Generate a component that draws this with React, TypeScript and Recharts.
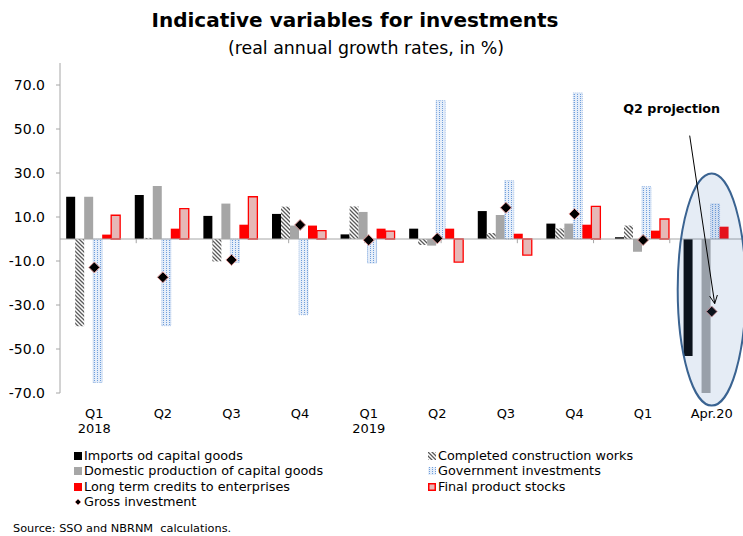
import React from 'react';
import { ComposedChart, Bar, Line, XAxis, YAxis, ReferenceLine, ReferenceDot } from 'recharts';

// Categories and axis labels
const periods = ['Q1-2018', 'Q2-2018', 'Q3-2018', 'Q4-2018', 'Q1-2019', 'Q2-2019', 'Q3-2019', 'Q4-2019', 'Q1-2020', 'Apr-2020'];
const quarterLabels = ['Q1', 'Q2', 'Q3', 'Q4', 'Q1', 'Q2', 'Q3', 'Q4', 'Q1', 'Apr.20'];
const yearLabels = ['2018', '', '', '', '2019', '', '', '', '', ''];
const yTicks = [-70, -50, -30, -10, 10, 30, 50, 70];

// Series (real annual growth rates, %)
const imports = [19.2, 20.0, 10.5, 11.4, 2.1, 4.7, 12.7, 7.0, 0.8, -53.2];
const construction = [-39.7, 0.5, -10.2, 14.7, 14.8, -2.7, 2.7, 4.8, 6.1, null];
const domestic = [19.2, 24.1, 16.1, 6.1, 12.3, -3.0, 10.9, 7.0, -5.8, -70.0];
const government = [-65.2, -39.4, -10.6, -34.4, -10.9, 62.9, 26.5, 66.4, 23.8, 15.9];
const credits = [2.0, 4.7, 6.5, 6.1, 4.7, 4.7, 2.4, 6.5, 3.8, 5.6];
const stocks = [10.8, 13.8, 19.2, 3.8, 3.6, -10.5, -7.3, 14.8, 9.1, null];
const gross = [-12.9, -17.4, -9.5, 6.4, -0.5, 0.3, 14.2, 11.4, -0.5, -33.0];

const data = periods.map((p, i) => ({
  period: p,
  imports: imports[i],
  construction: construction[i],
  domestic: domestic[i],
  government: government[i],
  credits: credits[i],
  stocks: stocks[i],
  gross: gross[i],
}));

const separators = periods.slice(1).map((_, i) => i + 1);

const FONT = '"DejaVu Sans", Verdana, sans-serif';

const Diamond = (props: any) => {
  const { cx, cy, index } = props;
  if (cx == null || cy == null) return <g key={index} />;
  const r = 5.5;
  return (
    <polygon
      key={index}
      points={`${cx},${cy - r} ${cx + r},${cy} ${cx},${cy + r} ${cx - r},${cy}`}
      fill="#000"
      stroke="#e39b9a"
      strokeWidth={1}
    />
  );
};

const QuarterTick = (props: any) => {
  const { x, y, payload } = props;
  const i = periods.indexOf(payload.value);
  return (
    <g>
      <text x={x} y={y + 17} textAnchor="middle" fontSize={13} fontFamily={FONT} fill="#000">
        {quarterLabels[i]}
      </text>
      {yearLabels[i] && (
        <text x={x} y={y + 32} textAnchor="middle" fontSize={13} fontFamily={FONT} fill="#000">
          {yearLabels[i]}
        </text>
      )}
    </g>
  );
};

// Ellipse + arrow + note around the April projection
const Projection = (props: any) => {
  const { cx, cy } = props;
  if (cx == null || cy == null) return <g />;
  const x1 = cx - 22, y1 = cy - 176, x2 = cx + 3, y2 = cy - 8;
  const ang = Math.atan2(y2 - y1, x2 - x1);
  const h = 9;
  const a1 = ang + Math.PI - 0.45, a2 = ang + Math.PI + 0.45;
  return (
    <g>
      <ellipse cx={cx} cy={cy - 22} rx={34} ry={116} fill="#4f81bd" fillOpacity={0.15} stroke="#3a6391" strokeWidth={2} />
      <line x1={x1} y1={y1} x2={x2} y2={y2} stroke="#000" strokeWidth={1} />
      <polyline
        points={`${x2 + h * Math.cos(a1)},${y2 + h * Math.sin(a1)} ${x2},${y2} ${x2 + h * Math.cos(a2)},${y2 + h * Math.sin(a2)}`}
        fill="none"
        stroke="#000"
        strokeWidth={1}
      />
      <text x={cx - 40} y={cy - 203} textAnchor="middle" dominantBaseline="central" fontSize={12.7} fontWeight="bold" fontFamily={FONT} fill="#000">
        Q2 projection
      </text>
    </g>
  );
};

const Swatch = ({ kind }: { kind: string }) => {
  let inner: React.ReactNode = null;
  if (kind === 'imports') inner = <rect x={0} y={0} width={8} height={8} fill="#000" />;
  if (kind === 'domestic') inner = <rect x={0} y={0} width={8} height={8} fill="#a6a6a6" />;
  if (kind === 'credits') inner = <rect x={0} y={0} width={8} height={8} fill="#ff0000" />;
  if (kind === 'construction') inner = <rect x={0} y={0} width={8} height={8} fill="url(#hatch)" />;
  if (kind === 'government') inner = <rect x={0} y={0} width={8} height={8} fill="url(#dots)" />;
  if (kind === 'stocks') inner = <rect x={0.75} y={0.75} width={6.5} height={6.5} fill="#e6b8b7" stroke="#ff0000" strokeWidth={1.5} />;
  if (kind === 'gross') inner = <polygon points="4,1 7,4 4,7 1,4" fill="#000" stroke="#e39b9a" strokeWidth={0.8} />;
  return (
    <svg width={8} height={8} style={{ display: 'block', marginRight: 2 }}>
      {inner}
    </svg>
  );
};

const legendRows = [
  { kind: 'imports', label: 'Imports od capital goods', x: 74, y: 456 },
  { kind: 'domestic', label: 'Domestic production of capital goods', x: 74, y: 471 },
  { kind: 'credits', label: 'Long term credits to enterprises', x: 74, y: 487 },
  { kind: 'gross', label: 'Gross investment', x: 74, y: 502 },
  { kind: 'construction', label: 'Completed construction works', x: 428, y: 456 },
  { kind: 'government', label: 'Government investments', x: 428, y: 471 },
  { kind: 'stocks', label: 'Final product stocks', x: 428, y: 487 },
];

const App = () => {
  return (
    <div style={{ position: 'absolute', left: 0, top: 0, width: 743, height: 536, overflow: 'hidden', background: '#fff', fontFamily: FONT }}>
      <svg width={0} height={0} style={{ position: 'absolute' }}>
        <defs>
          <pattern id="hatch" patternUnits="userSpaceOnUse" width={4} height={4}>
            <rect width={4} height={4} fill="#fff" />
            <path d="M-1,-1 L5,5 M-1,3 L1,5 M3,-1 L5,1" stroke="#5a5a5a" strokeWidth={1.3} />
          </pattern>
          <pattern id="dots" patternUnits="userSpaceOnUse" width={3} height={2}>
            <rect width={3} height={2} fill="#e6eef9" />
            <rect x={1} y={0} width={1} height={1} fill="#6f9edb" />
          </pattern>
        </defs>
      </svg>

      <div style={{ position: 'absolute', left: 0, top: 8, width: 710, textAlign: 'center', fontSize: 20, fontWeight: 'bold', lineHeight: '24px' }}>
        Indicative variables for investments
      </div>
      <div style={{ position: 'absolute', left: 0, top: 37, width: 732, textAlign: 'center', fontSize: 17.4, lineHeight: '22px' }}>
        (real annual growth rates, in %)
      </div>

      <div style={{ position: 'absolute', left: 0, top: 0 }}>
        <ComposedChart
          width={746}
          height={536}
          data={data}
          margin={{ top: 63, right: 0, left: 0, bottom: 103 }}
          barCategoryGap="9%"
          barGap={0}
        >
          <XAxis
            dataKey="period"
            height={40}
            axisLine={false}
            tickLine={false}
            interval={0}
            tick={<QuarterTick />}
          />
          <XAxis xAxisId="sep" type="number" domain={[0, periods.length]} hide />
          <YAxis
            width={60}
            domain={[-70, 80]}
            ticks={yTicks}
            interval={0}
            allowDataOverflow
            tickFormatter={(v: number) => v.toFixed(1)}
            tickSize={4}
            tickMargin={11}
            axisLine={{ stroke: '#a6a6a6' }}
            tickLine={{ stroke: '#a6a6a6' }}
            tick={{ fontSize: 14, fontFamily: FONT, fill: '#000' }}
          />
          <Bar dataKey="imports" fill="#000000" isAnimationActive={false} />
          <Bar dataKey="construction" fill="url(#hatch)" isAnimationActive={false} />
          <Bar dataKey="domestic" fill="#a6a6a6" isAnimationActive={false} />
          <Bar dataKey="government" fill="url(#dots)" stroke="#8fb3e3" strokeWidth={0.8} strokeDasharray="1 1" isAnimationActive={false} />
          <Bar dataKey="credits" fill="#ff0000" isAnimationActive={false} />
          <Bar dataKey="stocks" fill="#e6b8b7" stroke="#ff0000" strokeWidth={1.3} isAnimationActive={false} />
          <ReferenceLine y={0} stroke="#a6a6a6" strokeWidth={1} />
          {separators.map((s) => (
            <ReferenceLine
              key={s}
              xAxisId="sep"
              segment={[{ x: s, y: 0 }, { x: s, y: -1.9 }]}
              stroke="#a6a6a6"
              strokeWidth={1}
            />
          ))}
          <Line
            dataKey="gross"
            stroke="none"
            dot={Diamond}
            activeDot={false}
            legendType="none"
            isAnimationActive={false}
          />
          <ReferenceDot
            x={periods[periods.length - 1]}
            y={gross[gross.length - 1]}
            r={0}
            zIndex={1500}
            shape={<Projection />}
          />
        </ComposedChart>
      </div>

      {legendRows.map((row) => (
        <div
          key={row.label}
          style={{ position: 'absolute', left: row.x, top: row.y - 8, height: 16, display: 'flex', alignItems: 'center', fontSize: 12.8, lineHeight: '16px', whiteSpace: 'nowrap', color: '#000' }}
        >
          <Swatch kind={row.kind} />
          <span>{row.label}</span>
        </div>
      ))}

      <div style={{ position: 'absolute', left: 13, top: 521, fontSize: 11.3, lineHeight: '16px', whiteSpace: 'pre', color: '#000' }}>
        {'Source: SSO and NBRNM  calculations.'}
      </div>
    </div>
  );
};

export default App;
